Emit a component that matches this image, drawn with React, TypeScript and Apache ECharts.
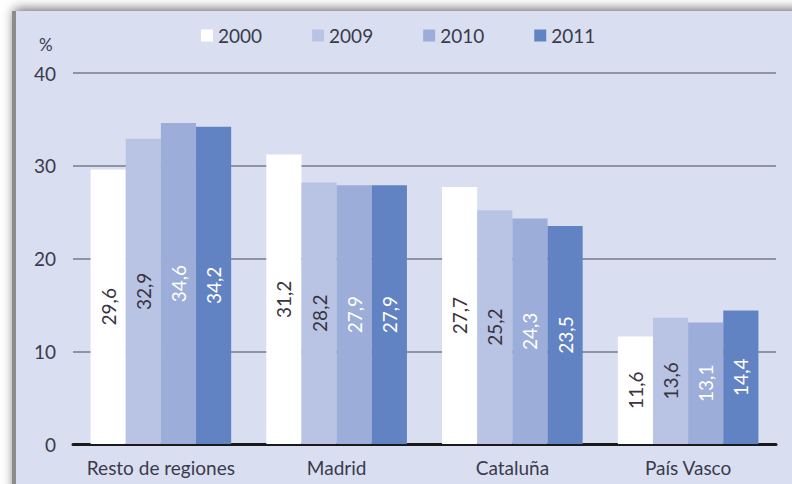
import React, { useEffect, useRef } from "react";
import * as echarts from "echarts";

const categories = ["Resto de regiones", "Madrid", "Cataluña", "País Vasco"];
const years = ["2000", "2009", "2010", "2011"];
const values2000 = [29.6, 31.2, 27.7, 11.6];
const values2009 = [32.9, 28.2, 25.2, 13.6];
const values2010 = [34.6, 27.9, 24.3, 13.1];
const values2011 = [34.2, 27.9, 23.5, 14.4];
const yTicks = [0, 10, 20, 30, 40];

const seriesValues = [values2000, values2009, values2010, values2011];
const barColors = ["#ffffff", "#b9c4e4", "#9badd8", "#6283c3"];
const labelColors = ["#3a3340", "#3a3340", "#ffffff", "#ffffff"];

const FONT = "Lato, 'Open Sans', sans-serif";
const TEXT = "#3a3a4c";

export default function App() {
  const ref = useRef<HTMLDivElement>(null);

  useEffect(() => {
    if (!ref.current) return;
    const chart = echarts.init(ref.current, null, { renderer: "svg" });
    chart.setOption({
      animation: false,
      backgroundColor: "#ffffff",
      graphic: [
        {
          type: "rect",
          z: -10,
          silent: true,
          shape: { x: 16, y: 11, width: 800, height: 500 },
          style: {
            fill: "#d9dff0",
            shadowBlur: 12,
            shadowColor: "rgba(0,0,0,0.6)",
            shadowOffsetX: -2,
            shadowOffsetY: -2,
          },
        },
        {
          type: "line",
          z: -9,
          silent: true,
          shape: { x1: 14, y1: 11, x2: 14, y2: 484 },
          style: { stroke: "#8c8c8c", lineWidth: 4 },
        },
        {
          type: "text",
          left: 39,
          top: 36,
          style: { text: "%", fill: TEXT, font: `17px ${FONT}` },
        },
      ],
      legend: {
        data: years,
        left: 196,
        top: 21,
        itemWidth: 12,
        itemHeight: 12,
        itemGap: 50,
        icon: "rect",
        textStyle: { fontFamily: FONT, fontSize: 19, color: TEXT },
      },
      grid: { left: 73, right: 16, top: 73, bottom: 40, containLabel: false },
      xAxis: {
        type: "category",
        data: categories,
        axisTick: { show: false },
        axisLine: { lineStyle: { color: "#1a1a1a", width: 3 } },
        axisLabel: { interval: 0, fontFamily: FONT, fontSize: 19, color: TEXT, margin: 14 },
      },
      yAxis: {
        type: "value",
        min: yTicks[0],
        max: yTicks[yTicks.length - 1],
        interval: 10,
        axisLine: { show: false },
        axisTick: { show: false },
        axisLabel: { fontFamily: FONT, fontSize: 19, color: TEXT, margin: 17 },
        splitLine: { lineStyle: { color: "#8f93a3", width: 2 } },
      },
      series: years.map((y, i) => ({
        name: y,
        type: "bar",
        data: seriesValues[i],
        barGap: "0%",
        barCategoryGap: "20%",
        itemStyle: { color: barColors[i] },
        label: {
          show: true,
          position: "inside",
          rotate: 90,
          fontFamily: FONT,
          fontSize: 19,
          color: labelColors[i],
          formatter: (p: any) => String(p.value.toFixed(1)).replace(".", ","),
        },
      })),
    });
    return () => chart.dispose();
  }, []);

  return (
    <div
      ref={ref}
      style={{ position: "fixed", left: 0, top: 0, width: 792, height: 484 }}
    />
  );
}
